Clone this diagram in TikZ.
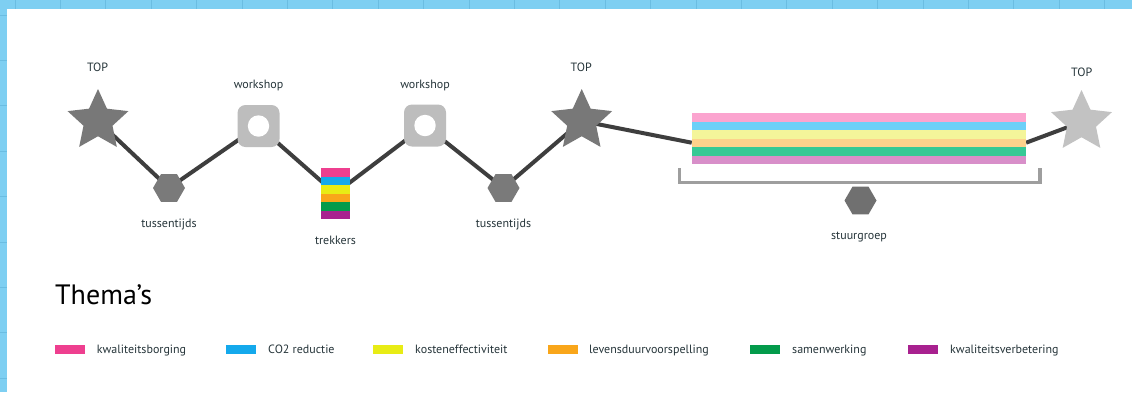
\documentclass[tikz,border=0pt]{standalone}
\usepackage{fontspec}
\setmainfont{PT Sans}
\usetikzlibrary{shapes.geometric}

\pgfdeclarelayer{back}
\pgfdeclarelayer{wires}
\pgfsetlayers{back,wires,main}

% palette
\definecolor{sheetblue}{HTML}{7ECFF2}
\definecolor{gridblue}{HTML}{6BBDE2}
\definecolor{ink}{HTML}{26353A}
\definecolor{stardark}{HTML}{787878}
\definecolor{starlight}{HTML}{C2C2C2}
\definecolor{hexgrey}{HTML}{7A7A7A}
\definecolor{boxgrey}{HTML}{BDBDBD}
\definecolor{wire}{HTML}{3E3E3E}
\definecolor{bracketgrey}{HTML}{9E9E9E}
% theme colours
\definecolor{tpink}{HTML}{EE3F8F}
\definecolor{tblue}{HTML}{14A9EC}
\definecolor{tyellow}{HTML}{E8EC15}
\definecolor{torange}{HTML}{F9A61A}
\definecolor{tgreen}{HTML}{039B4B}
\definecolor{tpurple}{HTML}{A8218F}
% soft versions for the steering band
\definecolor{spink}{HTML}{FBA4CF}
\definecolor{sblue}{HTML}{6CD0F8}
\definecolor{syellow}{HTML}{F4F59A}
\definecolor{sorange}{HTML}{FDD28C}
\definecolor{sgreen}{HTML}{36C995}
\definecolor{spurple}{HTML}{D88FC9}

\tikzset{
  topstar/.style={star, star points=5, star point ratio=2.1, minimum size=64pt,
                  inner sep=0pt, draw=none, fill=#1},
  hexa/.style={regular polygon, regular polygon sides=6, minimum size=32pt,
               inner sep=0pt, draw=none, fill=#1},
  workbox/.style={rectangle, rounded corners=8pt, minimum size=42pt, inner sep=0pt,
                  draw=none, fill=boxgrey,
                  path picture={\fill[white] (path picture bounding box.center) circle[radius=10.7pt];}},
  striped/.style={rectangle, inner sep=0pt, draw=none,
                  path picture={\foreach \c [count=\i from 0] in {#1}
                    {\fill[\c] ([yshift=-\i*8.5pt]path picture bounding box.north west)
                       rectangle ([yshift=-\i*8.5pt-8.6pt]path picture bounding box.north east);}}},
  conn/.style={draw=wire, line width=4pt},
  bracket/.style={draw=bracketgrey, line width=3.5pt, line join=miter},
  lbl/.style={anchor=base, inner sep=0pt, text=ink, font=\fontsize{12}{14}\selectfont},
  swatch/.style={rectangle, anchor=north west, minimum width=30pt, minimum height=8.5pt,
                 inner sep=0pt, draw=none, fill=#1},
  legtext/.style={anchor=base west, inner sep=0pt, text=ink, font=\fontsize{12}{14}\selectfont},
}

\begin{document}
\begin{tikzpicture}[x=1pt, y=-1pt]
\useasboundingbox (0,0) rectangle (1132,392);

% sheet and grid
\begin{pgfonlayer}{back}
  \fill[sheetblue] (0,0) rectangle (1132,392);
  \foreach \k in {0,...,24} {
    \draw[gridblue, line width=1pt] (15+45.4*\k,0) -- (15+45.4*\k,392);
  }
  \foreach \k in {0,...,8} {
    \draw[gridblue, line width=1pt] (0,15+45.4*\k) -- (1132,15+45.4*\k);
  }
  \fill[white] (7,9) rectangle (1132,392);
\end{pgfonlayer}

% route
\node[topstar=stardark] (top1) at (98,121) {};
\node[hexa=hexgrey] (hex1) at (169,188) {};
\node[workbox] (ws1) at (258.5,126) {};
\node[striped={tpink,tblue,tyellow,torange,tgreen,tpurple},
      minimum width=29.3pt, minimum height=51pt] (trek) at (335.3,193.5) {};
\node[workbox] (ws2) at (425,125.5) {};
\node[hexa=hexgrey] (hex2) at (503.5,188) {};
\node[topstar=stardark] (top2) at (581.7,121) {};
\node[striped={spink,sblue,syellow,sorange,sgreen,spurple},
      minimum width=334pt, minimum height=51pt] (band) at (858.9,138.7) {};
\node[topstar=starlight] (top3) at (1081.5,122) {};
\node[hexa=hexgrey!92!black] (hex3) at (860.5,200.5) {};

\begin{pgfonlayer}{wires}
  \draw[conn] (top1.center) -- (hex1.center) -- (ws1.center) -- (trek.center)
              -- (ws2.center) -- (hex2.center) -- (top2.center)
              -- ([yshift=-4pt]band.west);
  \draw[conn] ([yshift=-4pt]band.east) -- (top3.center);
\end{pgfonlayer}

% bracket under the steering band
\draw[bracket] ([shift={(-12pt,-4pt)}]band.south west) -- ++(0,-14pt)
               -| ([shift={(14pt,-4pt)}]band.south east);

% labels
\node[lbl] (ltop1) at (97.5,71.7) {TOP};
\node[lbl] (lws1) at (258.5,88.3) {workshop};
\node[lbl] (lhex1) at (169,227) {tussentijds};
\node[lbl] (ltrek) at (335.5,244) {trekkers};
\node[lbl] (lws2) at (425,88.3) {workshop};
\node[lbl] (lhex2) at (503.5,227) {tussentijds};
\node[lbl] (ltop2) at (581.2,71.7) {TOP};
\node[lbl] (ltop3) at (1081.7,76) {TOP};
\node[lbl] (lhex3) at (859,239) {stuurgroep};

% legend
\node[anchor=base west, inner sep=0pt, text=black, font=\fontsize{28}{32}\selectfont]
  (thema) at (55,304) {Thema’s};

\node[swatch=tpink]   (sw1) at (55,345) {};
\node[legtext] (lg1) at (96.7,353) {kwaliteitsborging};
\node[swatch=tblue]   (sw2) at (226,345) {};
\node[legtext] (lg2) at (268,353) {CO2 reductie};
\node[swatch=tyellow] (sw3) at (373,345) {};
\node[legtext] (lg3) at (415,353) {kosteneffectiviteit};
\node[swatch=torange] (sw4) at (547.5,345) {};
\node[legtext] (lg4) at (589,353) {levensduurvoorspelling};
\node[swatch=tgreen]  (sw5) at (750,345) {};
\node[legtext] (lg5) at (792,353) {samenwerking};
\node[swatch=tpurple] (sw6) at (908,345) {};
\node[legtext] (lg6) at (950,353) {kwaliteitsverbetering};
\end{tikzpicture}
\end{document}
